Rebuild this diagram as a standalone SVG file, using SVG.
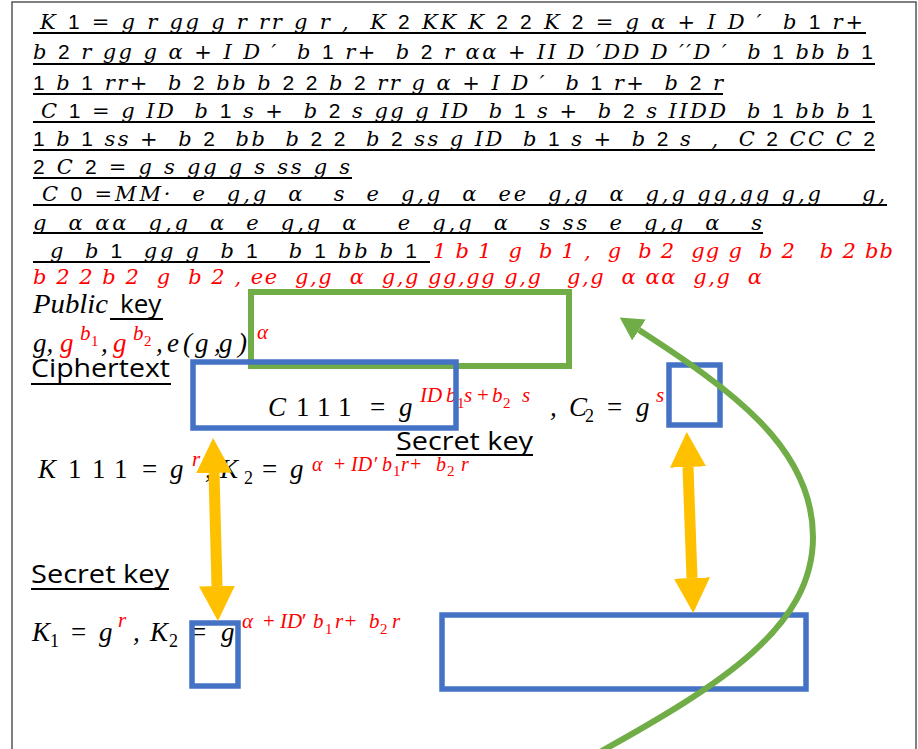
<svg xmlns="http://www.w3.org/2000/svg" width="918" height="749" viewBox="0 0 918 749">
<defs>
<style>
 .t{font-family:"DejaVu Serif","Liberation Serif",serif;font-style:italic;font-size:21px;fill:#000;white-space:pre}
 .d{font-family:"Liberation Sans","Open Sans",sans-serif;font-style:normal}
 .red{fill:#f00}
 .m{font-family:"Liberation Serif","DejaVu Serif",serif;font-style:italic;font-size:27px;fill:#000}
 .sp{font-size:21px;fill:#f00}
 .sp2{font-size:20px;fill:#f00}
 .sb{font-size:15px;font-style:normal}
 .s18{font-size:18px;font-style:normal}
 .n{font-style:normal}
 .lab{font-family:"Open Sans","Liberation Sans",sans-serif;font-size:26px;fill:#000}
 .ul{stroke:#000;stroke-width:1.8;fill:none}
 .bb{fill:none;stroke:#4472C4;stroke-width:5.5}
 .gb{fill:none;stroke:#70AD47;stroke-width:6}
 .ya{stroke:#FFC000;stroke-width:11;fill:none}
 .gc{stroke:#70AD47;stroke-width:6;fill:none}
</style>
<marker id="yh" markerUnits="userSpaceOnUse" viewBox="0 0 35 36" markerWidth="35" markerHeight="36" refX="0" refY="18" orient="auto-start-reverse"><path d="M0,0L35,18L0,36z" fill="#FFC000"/></marker>
<marker id="gh" markerUnits="userSpaceOnUse" viewBox="0 0 23 25" markerWidth="23" markerHeight="25" refX="0" refY="12.5" orient="auto"><path d="M0,0L23,12.5L0,25z" fill="#70AD47"/></marker>
</defs>

<rect x="0" y="0" width="918" height="749" fill="#fff"/>
<rect id="frame" x="12" y="2" width="904" height="760" fill="#fff" stroke="#555" stroke-width="1.5"/>

<!-- garbled equation lines at the top -->
<g id="header-lines" xml:space="preserve">
<text class="t" x="40" y="29" textLength="823" lengthAdjust="spacing">K <tspan class="d">1</tspan> = g r gg g r rr g r ,  K <tspan class="d">2</tspan> KK K <tspan class="d">2</tspan> <tspan class="d">2</tspan> K <tspan class="d">2</tspan> = g α + I D ′  b <tspan class="d">1</tspan> r+</text>
<text class="t" x="33" y="59" textLength="840" lengthAdjust="spacing">b <tspan class="d">2</tspan> r gg g α + I D ′  b <tspan class="d">1</tspan> r+  b <tspan class="d">2</tspan> r αα + II D ′DD D ′′D ′  b <tspan class="d">1</tspan> bb b <tspan class="d">1</tspan></text>
<text class="t" x="33" y="90" textLength="690" lengthAdjust="spacing"><tspan class="d">1</tspan> b <tspan class="d">1</tspan> rr+  b <tspan class="d">2</tspan> bb b <tspan class="d">2</tspan> <tspan class="d">2</tspan> b <tspan class="d">2</tspan> rr g α + I D ′  b <tspan class="d">1</tspan> r+  b <tspan class="d">2</tspan> r</text>
<text class="t" x="41" y="118" textLength="832" lengthAdjust="spacing">C <tspan class="d">1</tspan> = g ID  b <tspan class="d">1</tspan> s +  b <tspan class="d">2</tspan> s gg g ID  b <tspan class="d">1</tspan> s +  b <tspan class="d">2</tspan> s IIDD  b <tspan class="d">1</tspan> bb b <tspan class="d">1</tspan></text>
<text class="t" x="33" y="146" textLength="842" lengthAdjust="spacing"><tspan class="d">1</tspan> b <tspan class="d">1</tspan> ss +  b <tspan class="d">2</tspan>  bb  b <tspan class="d">2</tspan> <tspan class="d">2</tspan>  b <tspan class="d">2</tspan> ss g ID  b <tspan class="d">1</tspan> s +  b <tspan class="d">2</tspan> s  ,  C <tspan class="d">2</tspan> CC C <tspan class="d">2</tspan></text>
<text class="t" x="33" y="174" textLength="317" lengthAdjust="spacing"><tspan class="d">2</tspan> C <tspan class="d">2</tspan> = g s gg g s ss g s</text>
<text class="t" x="42" y="201" textLength="843" lengthAdjust="spacing">C <tspan class="d">0</tspan> =MM·  e  g,g  α   s  e  g,g  α  ee  g,g  α  g,g gg,gg g,g    g,</text>
<text class="t" x="33" y="230" textLength="729" lengthAdjust="spacing">g  α αα  g,g  α  e  g,g  α    e  g,g  α   s ss  e  g,g  α   s</text>
<text class="t" x="50" y="258" textLength="367" lengthAdjust="spacing">g  b <tspan class="d">1</tspan>  gg g  b <tspan class="d">1</tspan>   b <tspan class="d">1</tspan> bb b <tspan class="d">1</tspan></text>
<text class="t red" x="433" y="258" textLength="460" lengthAdjust="spacing">1 b 1  g  b 1 ,  g  b 2  gg g  b 2   b 2 bb</text>
<text class="t red" x="33" y="284" textLength="729" lengthAdjust="spacing">b 2 2 b 2  g  b 2 , ee  g,g  α  g,g gg,gg g,g   g,g  α αα  g,g  α</text>
</g>

<g id="underlines">
<path class="ul" d="M33,33H866M33,64H875M33,94H723M33,122H875M33,150H875M33,178H352M33,205H887M33,233H763M33,262H430"/>
<path class="ul" d="M110,319H163M31,384H171M396,455H533M31,589H169"/>
</g>

<!-- public key -->
<g id="public-key">
<text class="m red" x="33" y="313" font-size="28" textLength="75" lengthAdjust="spacingAndGlyphs">Public</text>
<text class="lab" x="120" y="313">key</text>
<text class="m" y="352"><tspan x="33">g,</tspan><tspan class="red" x="60">g</tspan><tspan class="sp" x="80" y="340">b</tspan><tspan class="sb red" x="91" y="346">1</tspan><tspan x="101" y="352">,</tspan><tspan class="red" x="113">g</tspan><tspan class="sp" x="133" y="340">b</tspan><tspan class="sb red" x="144" y="346">2</tspan><tspan x="156 167 183 195 214 219 238" y="352">,e(g,g)</tspan><tspan class="sp" x="257" y="339">α</tspan></text>
</g>

<!-- ciphertext -->
<g id="ciphertext">
<text class="lab" x="31" y="377" textLength="139" lengthAdjust="spacingAndGlyphs">Ciphertext</text>
<text class="m" y="416"><tspan x="268">C</tspan><tspan class="n" x="296 317 338">111</tspan><tspan class="n" x="370">=</tspan><tspan x="399">g</tspan><tspan class="sp" x="420" y="402">ID</tspan><tspan class="sp" x="446">b</tspan><tspan class="sb red" x="457" y="408">1</tspan><tspan class="sp" x="464" y="402">s</tspan><tspan class="sp n" x="477">+</tspan><tspan class="sp" x="492">b</tspan><tspan class="sb red" x="503" y="408">2</tspan><tspan class="sp" x="522" y="402">s</tspan><tspan x="550" y="416">,</tspan><tspan x="569">C</tspan><tspan class="s18" x="585" y="422">2</tspan><tspan class="n" x="607" y="416">=</tspan><tspan x="636">g</tspan><tspan class="sp" x="656" y="402">s</tspan></text>
</g>

<!-- secret key (middle) -->
<g id="secret-key-mid">
<text class="lab" x="396" y="450" textLength="137" lengthAdjust="spacingAndGlyphs">Secret key</text>
<text class="m" y="478"><tspan x="38">K</tspan><tspan class="n" x="68 92 114">111</tspan><tspan class="n" x="142">=</tspan><tspan x="170">g</tspan><tspan class="sp" x="192" y="466">r</tspan><tspan x="205" y="478">,</tspan><tspan x="220">K</tspan><tspan class="s18" x="244" y="484">2</tspan><tspan class="n" x="262" y="478">=</tspan><tspan x="290">g</tspan><tspan class="sp2" x="312" y="471">α</tspan><tspan class="sp2 n" x="334">+</tspan><tspan class="sp2" x="351">ID</tspan><tspan class="sp2 n" x="374">′</tspan><tspan class="sp2" x="382">b</tspan><tspan class="sb red" x="393" y="476">1</tspan><tspan class="sp2" x="401" y="471">r+</tspan><tspan class="sp2" x="436">b</tspan><tspan class="sb red" x="447" y="476">2</tspan><tspan class="sp2" x="461" y="471">r</tspan></text>
</g>

<!-- secret key (lower) -->
<g id="secret-key-low">
<text class="lab" x="31" y="583" textLength="138" lengthAdjust="spacingAndGlyphs">Secret key</text>
<text class="m" y="641"><tspan x="32">K</tspan><tspan class="s18" x="50" y="647">1</tspan><tspan class="n" x="71" y="641">=</tspan><tspan x="99">g</tspan><tspan class="sp" x="118" y="627">r</tspan><tspan x="133" y="641">,</tspan><tspan x="150">K</tspan><tspan class="s18" x="169" y="647">2</tspan><tspan class="n" x="191" y="641">=</tspan><tspan x="221">g</tspan><tspan class="sp" x="242" y="628">α</tspan><tspan class="sp n" x="263">+</tspan><tspan class="sp" x="280">ID</tspan><tspan class="sp n" x="302">′</tspan><tspan class="sp" x="313">b</tspan><tspan class="sb red" x="325" y="634">1</tspan><tspan class="sp" x="335" y="628">r+</tspan><tspan class="sp" x="369">b</tspan><tspan class="sb red" x="380" y="634">2</tspan><tspan class="sp" x="392" y="628">r</tspan></text>
</g>

<!-- highlight boxes -->
<g id="box-public"><rect class="gb" x="251" y="292" width="318" height="74"/></g>
<g id="box-c1"><rect class="bb" x="193" y="362" width="263" height="66"/></g>
<g id="box-c2"><rect class="bb" x="669" y="365" width="51" height="60"/></g>
<g id="box-k1"><rect class="bb" x="192" y="623" width="46" height="63"/></g>
<g id="box-k2"><rect class="bb" x="442" y="615" width="364" height="74"/></g>

<g id="connectors">
<path class="ya" d="M214,473L217,586" marker-start="url(#yh)" marker-end="url(#yh)"/>
<path class="ya" d="M688,467L692,578" marker-start="url(#yh)" marker-end="url(#yh)"/>
<path class="gc" d="M600,752C722,684 813,627 813,537C813,447 730,389 639,330" marker-end="url(#gh)"/>
</g>
</svg>
